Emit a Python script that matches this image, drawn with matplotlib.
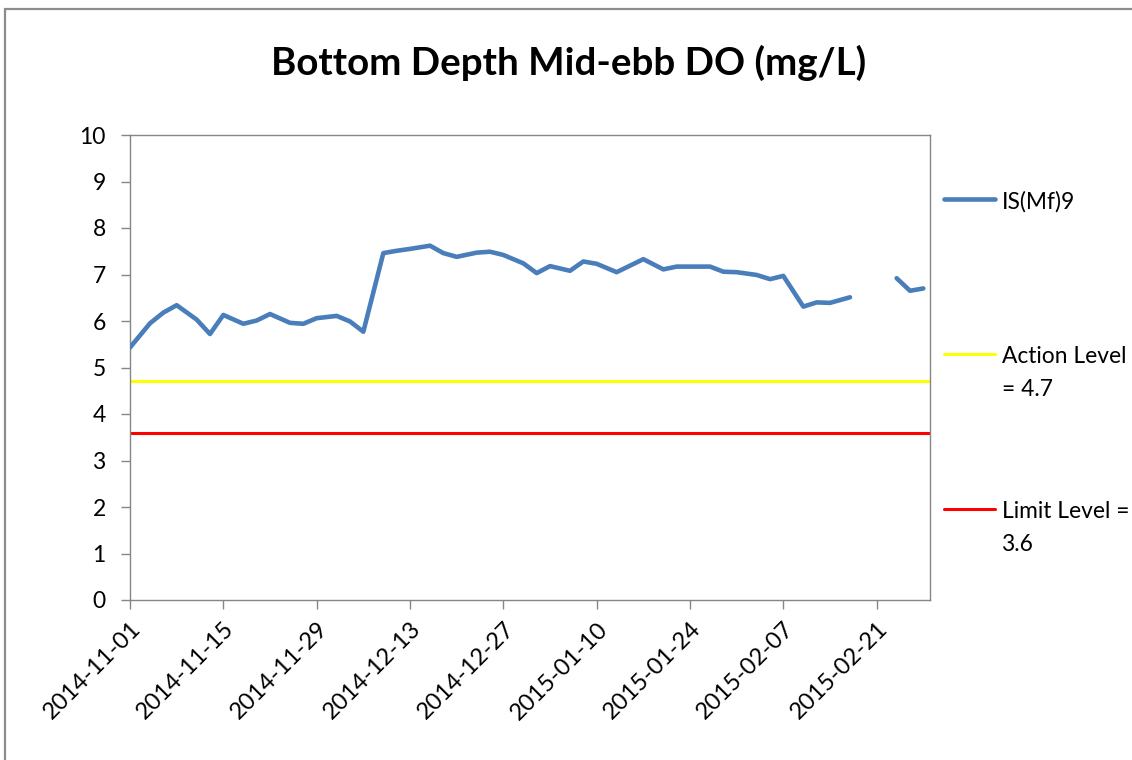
import matplotlib
matplotlib.use("Agg")
import matplotlib.pyplot as plt
from matplotlib.lines import Line2D
from matplotlib.patches import Rectangle
from matplotlib.transforms import ScaledTranslation
import numpy as np
import pandas as pd

# ---------------- data ----------------
dates = [
    "2014-11-01", "2014-11-04", "2014-11-06", "2014-11-08", "2014-11-11", "2014-11-13",
    "2014-11-15", "2014-11-18", "2014-11-20", "2014-11-22", "2014-11-25", "2014-11-27",
    "2014-11-29", "2014-12-02", "2014-12-04", "2014-12-06", "2014-12-09", "2014-12-11",
    "2014-12-13", "2014-12-16", "2014-12-18", "2014-12-20", "2014-12-23", "2014-12-25",
    "2014-12-27", "2014-12-30", "2015-01-01", "2015-01-03", "2015-01-06", "2015-01-08",
    "2015-01-10", "2015-01-13", "2015-01-15", "2015-01-17", "2015-01-20", "2015-01-22",
    "2015-01-24", "2015-01-27", "2015-01-29", "2015-01-31", "2015-02-03", "2015-02-05",
    "2015-02-07", "2015-02-10", "2015-02-12", "2015-02-14", "2015-02-17", "2015-02-19",
    "2015-02-21", "2015-02-24", "2015-02-26", "2015-02-28",
]
do_values = [
    5.43, 5.95, 6.18, 6.34, 6.03, 5.72,
    6.13, 5.94, 6.01, 6.15, 5.96, 5.94,
    6.06, 6.11, 5.99, 5.77, 7.46, 7.51,
    7.55, 7.62, 7.46, 7.38, 7.47, 7.49,
    7.42, 7.24, 7.03, 7.18, 7.08, 7.28,
    7.23, 7.05, 7.19, 7.33, 7.11, 7.17,
    7.17, 7.17, 7.06, 7.05, 6.99, 6.90,
    6.97, 6.31, 6.40, 6.39, 6.51, np.nan,
    np.nan, 6.92, 6.65, 6.70,
]
series_name = "IS(Mf)9"
action_level = 4.7
limit_level = 3.6
action_label = "Action Level\n= 4.7"
limit_label = "Limit Level =\n3.6"
x_tick_labels = ["2014-11-01", "2014-11-15", "2014-11-29", "2014-12-13", "2014-12-27",
                 "2015-01-10", "2015-01-24", "2015-02-07", "2015-02-21"]
y_ticks = [0, 1, 2, 3, 4, 5, 6, 7, 8, 9, 10]
x_start, x_end = "2014-11-01", "2015-03-01"
title = "Bottom Depth Mid-ebb DO (mg/L)"

# ---------------- style ----------------
FONT = ["Lato", "DejaVu Sans"]
plt.rcParams["font.family"] = FONT
BLUE = "#4A7EBB"
YELLOW = "#FFFF00"
RED = "#FF0000"
GRAY = "#868686"
W, H = 1132, 760
FS = 16.5
FSX = 17
FSL = 16.4

fig = plt.figure(figsize=(W / 100, H / 100), dpi=100)
fig.patch.set_facecolor("white")

# chart-area border
fig.add_artist(Rectangle((5 / W, -0.05), 1.2, 1 - 9 / H + 0.05, transform=fig.transFigure,
                         fill=False, edgecolor="#8c8c8c", linewidth=1.6))

ax = fig.add_axes([130 / W, 1 - 600 / H, 800 / W, 465 / H])

x = pd.to_datetime(dates)
ax.plot(x, do_values, color=BLUE, linewidth=3.3, solid_capstyle="round",
        solid_joinstyle="round", zorder=3)
ax.axhline(action_level, color=YELLOW, linewidth=2.2, zorder=2)
ax.axhline(limit_level, color=RED, linewidth=2.2, zorder=2)

ax.set_xlim(pd.Timestamp(x_start), pd.Timestamp(x_end))
ax.set_ylim(0, 10)
ax.set_yticks(y_ticks)
ax.set_yticklabels([str(v) for v in y_ticks])
ax.set_xticks(pd.to_datetime(x_tick_labels))
ax.set_xticklabels(x_tick_labels)

for s in ax.spines.values():
    s.set_color(GRAY)
    s.set_linewidth(1.0)

ax.tick_params(axis="y", direction="out", length=6.5, width=1.0, color=GRAY,
               pad=11, labelsize=FS, labelcolor="#000000")
ax.tick_params(axis="x", direction="out", length=6.5, width=1.0, color=GRAY,
               pad=11, labelsize=FSX, labelcolor="#000000")
offset = ScaledTranslation(0.06, 0, fig.dpi_scale_trans)
for lbl in ax.get_xticklabels():
    lbl.set_rotation(45)
    lbl.set_ha("right")
    lbl.set_va("center_baseline")
    lbl.set_rotation_mode("anchor")
    lbl.set_transform(lbl.get_transform() + offset)

# title
fig.text(569 / W, 1 - 63 / H, title, ha="center", va="center",
         fontsize=27.7, fontweight="bold", color="#000000")

# legend (right side)
legend_items = [(series_name, BLUE, 3.3, 199), (action_label, YELLOW, 2.2, 354),
                (limit_label, RED, 2.2, 509)]
for label, col, lw, ypx in legend_items:
    yf = 1 - ypx / H
    fig.add_artist(Line2D([944 / W, 995 / W], [yf, yf], transform=fig.transFigure,
                          color=col, linewidth=lw, solid_capstyle="round"))
    fig.text(1002 / W, 1 - (ypx - 8) / H, label, ha="left", va="top", fontsize=FSL,
             color="#000000", linespacing=1.7)

fig.savefig("out.png", dpi=100)
